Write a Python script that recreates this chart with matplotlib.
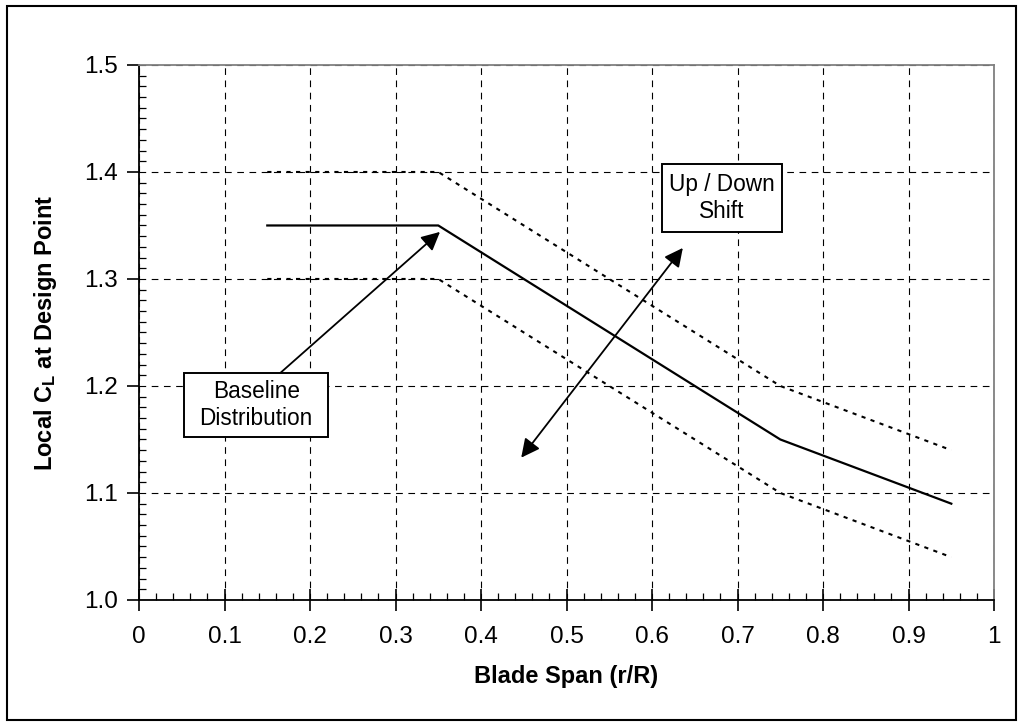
"""Local lift coefficient distribution along the blade span."""

import matplotlib

matplotlib.use("Agg")
import matplotlib.pyplot as plt
from matplotlib.patches import Rectangle
from matplotlib.ticker import MultipleLocator

plt.rcParams["font.family"] = ["Liberation Sans", "DejaVu Sans"]
plt.rcParams["mathtext.fontset"] = "custom"
plt.rcParams["mathtext.rm"] = "Liberation Sans:bold"
plt.rcParams["mathtext.it"] = "Liberation Sans:bold"

span = [0.15, 0.35, 0.75, 0.95]
cl_baseline = [1.35, 1.35, 1.15, 1.09]
cl_upper = [1.40, 1.40, 1.20, 1.14]
cl_lower = [1.30, 1.30, 1.10, 1.04]

x_ticks = [0, 0.1, 0.2, 0.3, 0.4, 0.5, 0.6, 0.7, 0.8, 0.9, 1]
x_tick_labels = ["0", "0.1", "0.2", "0.3", "0.4", "0.5", "0.6", "0.7", "0.8", "0.9", "1"]
y_ticks = [1.0, 1.1, 1.2, 1.3, 1.4, 1.5]
y_tick_labels = ["1.0", "1.1", "1.2", "1.3", "1.4", "1.5"]

fig = plt.figure(figsize=(10.23, 7.26), dpi=100)
ax = fig.add_axes([0.1359, 0.1736, 0.8358, 0.7369])

dot_style = (0, (2.0, 2.6))
ax.plot(span, cl_upper, color="black", linewidth=1.5, linestyle=dot_style)
ax.plot(span, cl_lower, color="black", linewidth=1.5, linestyle=dot_style)
ax.plot(span, cl_baseline, color="black", linewidth=1.6)

ax.set_xlim(0, 1)
ax.set_ylim(1.0, 1.5)
ax.set_xticks(x_ticks)
ax.set_xticklabels(x_tick_labels)
ax.set_yticks(y_ticks)
ax.set_yticklabels(y_tick_labels)
ax.xaxis.set_minor_locator(MultipleLocator(0.02))
ax.yaxis.set_minor_locator(MultipleLocator(0.01))

ax.tick_params(axis="x", which="major", direction="inout", length=16, width=1.2,
               labelsize=17.5, pad=11)
ax.tick_params(axis="x", which="minor", direction="in", length=5, width=0.9)
ax.tick_params(axis="y", which="major", direction="out", length=9, width=1.2,
               labelsize=17.5, pad=6)
ax.tick_params(axis="y", which="minor", direction="in", length=5, width=0.9)

ax.grid(True, which="major", color="black", linewidth=0.8, linestyle=(0, (6, 5)))
ax.set_axisbelow(True)

for side in ("left", "bottom"):
    ax.spines[side].set_linewidth(1.3)
    ax.spines[side].set_color("black")
for side in ("top", "right"):
    ax.spines[side].set_linewidth(1.3)
    ax.spines[side].set_color("#808080")

ax.set_xlabel("Blade Span (r/R)", fontsize=17, fontweight="bold", labelpad=12)
ax.set_ylabel(r"Local C$_\mathrm{L}$ at Design Point", fontsize=17,
              fontweight="bold", labelpad=18)

# annotation boxes (data coords: x0, y0, width, height)
for x0, y0, w, h in [(0.053, 1.152, 0.168, 0.060), (0.612, 1.344, 0.140, 0.063)]:
    ax.add_patch(Rectangle((x0, y0), w, h, facecolor="white", edgecolor="black",
                           linewidth=1.4, zorder=5))

ax.text(0.137, 1.182, "Baseline\nDistribution", ha="center", va="center",
        fontsize=16.3, linespacing=1.2, zorder=6)
ax.text(0.682, 1.3755, "Up / Down\nShift", ha="center", va="center",
        fontsize=16.3, linespacing=1.2, zorder=6)

ax.annotate("", xy=(0.352, 1.344), xytext=(0.165, 1.212),
            arrowprops=dict(arrowstyle="-|>", color="black", linewidth=1.3,
                            mutation_scale=28, shrinkA=0, shrinkB=0))
ax.annotate("", xy=(0.636, 1.329), xytext=(0.447, 1.133),
            arrowprops=dict(arrowstyle="<|-|>", color="black", linewidth=1.3,
                            mutation_scale=28, shrinkA=0, shrinkB=0))

fig.patches.append(Rectangle((7 / 1023, 6 / 726), 1009 / 1023, 714 / 726,
                             transform=fig.transFigure, fill=False,
                             edgecolor="black", linewidth=1.5))

fig.savefig("out.png", dpi=100)
